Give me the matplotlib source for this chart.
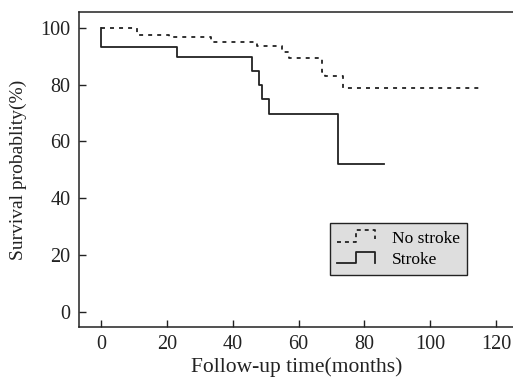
import matplotlib
matplotlib.use("Agg")
import matplotlib.pyplot as plt
from matplotlib.lines import Line2D
from matplotlib.legend_handler import HandlerBase

plt.rcParams['font.family'] = ['Liberation Serif', 'DejaVu Serif']

# Kaplan-Meier step data (time in months, survival %)
no_stroke_t = [0, 11, 20.7, 33.5, 47.5, 55, 57, 67, 68, 73.5, 116]
no_stroke_s = [100, 97.6, 96.8, 95.2, 93.8, 91.7, 89.6, 84.4, 83.2, 79.0, 79.0]

stroke_t = [0, 0, 23, 46, 48, 49, 51, 72, 86]
stroke_s = [100, 93.2, 89.7, 84.9, 80.0, 75.0, 69.7, 52.2, 52.2]

xticks = [0, 20, 40, 60, 80, 100, 120]
yticks = [0, 20, 40, 60, 80, 100]
labels = ["No stroke", "Stroke"]

ink = '#222222'

class StepHandler(HandlerBase):
    def __init__(self, drop):
        super().__init__()
        self.drop = drop

    def create_artists(self, legend, orig_handle, xdescent, ydescent,
                       width, height, fontsize, trans):
        x0 = -xdescent
        y0 = -ydescent
        xs = [x0, x0 + 0.52 * width, x0 + 0.52 * width, x0 + width, x0 + width]
        lo = y0 + 0.05 * height
        hi = y0 + 1.0 * height
        ys = [lo, lo, hi, hi, hi - self.drop * (hi - lo)]
        ln = Line2D(xs, ys, color=orig_handle.get_color(),
                    linewidth=orig_handle.get_linewidth())
        if orig_handle.get_linestyle() not in ('-', 'solid'):
            ln.set_dashes((2.2, 2.2))
        ln.set_transform(trans)
        return [ln]

fig = plt.figure(figsize=(5.13, 3.79), dpi=100)
ax = fig.add_axes([0.154, 0.137, 0.850, 0.831])

l1, = ax.step(no_stroke_t, no_stroke_s, where='post', color=ink,
              linewidth=1.3, dashes=(2.2, 2.8), label=labels[0])
l2, = ax.step(stroke_t, stroke_s, where='post', color=ink,
              linewidth=1.3, label=labels[1])

ax.set_xlim(-6.7, 125.8)
ax.set_ylim(-5.46, 105.6)
ax.set_xticks(xticks)
ax.set_yticks(yticks)
ax.tick_params(direction='in', length=5, width=1.0, colors=ink,
               labelsize=14.5, pad=6)
ax.tick_params(axis='y', pad=6)
for s in ['left', 'bottom', 'top']:
    ax.spines[s].set_linewidth(1.1)
    ax.spines[s].set_color(ink)
ax.spines['right'].set_visible(False)

ax.set_xlabel("Follow-up time(months)", fontsize=15.5, color=ink, labelpad=2)
ax.set_ylabel("Survival probablity(%)", fontsize=14, color=ink, labelpad=10)

leg = ax.legend(handles=[l1, l2], labels=labels,
                handler_map={l1: StepHandler(0.75), l2: StepHandler(1.0)},
                loc='center', bbox_to_anchor=(0.571, 0.168, 0.323, 0.159),
                fontsize=12.5, handlelength=2.2, handleheight=0.7,
                handletextpad=1.0, labelspacing=0.3, borderpad=0.4,
                borderaxespad=0, fancybox=False, framealpha=1)
fr = leg.get_frame()
fr.set_facecolor('#dedede')
fr.set_edgecolor(ink)
fr.set_linewidth(1.0)

fig.savefig("out.png", dpi=100)
